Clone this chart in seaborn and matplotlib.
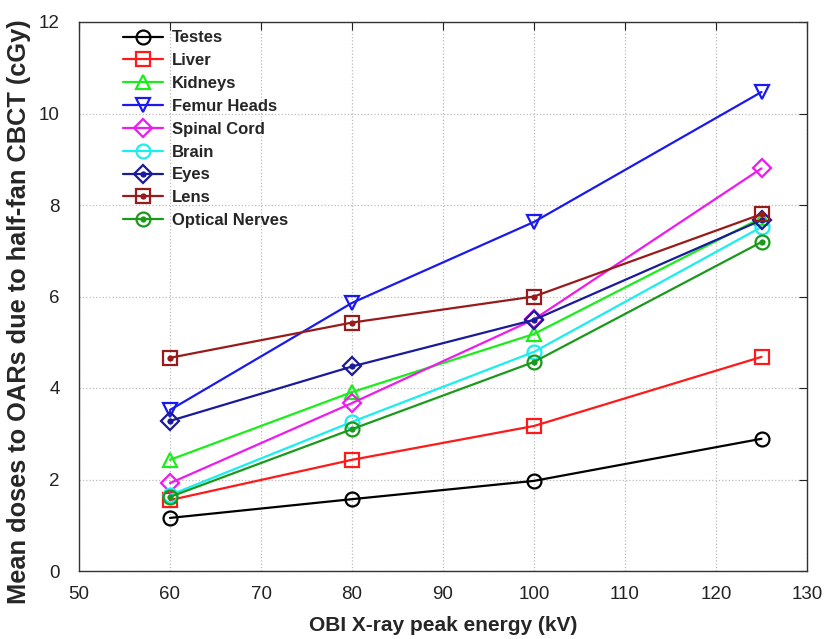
import numpy as np
import pandas as pd
import matplotlib
matplotlib.use("Agg")
import matplotlib.pyplot as plt
from matplotlib.legend_handler import HandlerTuple
import seaborn as sns

# ==================================================
# DATA
# ==================================================
energy_kv = [60, 80, 100, 125]

testes = [1.16, 1.57, 1.97, 2.89]
liver = [1.55, 2.43, 3.17, 4.68]
kidneys = [2.43, 3.91, 5.18, 7.72]
femur_heads = [3.52, 5.86, 7.63, 10.47]
spinal_cord = [1.92, 3.67, 5.50, 8.80]
brain = [1.66, 3.26, 4.79, 7.52]
eyes = [3.28, 4.47, 5.49, 7.67]
lens = [4.66, 5.43, 6.00, 7.80]
optical_nerves = [1.62, 3.10, 4.57, 7.19]

organs = ["Testes", "Liver", "Kidneys", "Femur Heads", "Spinal Cord",
          "Brain", "Eyes", "Lens", "Optical Nerves"]
doses = [testes, liver, kidneys, femur_heads, spinal_cord,
         brain, eyes, lens, optical_nerves]

# style per organ: colour, marker, inner dot?
styles = {
    "Testes": ("black", "o", False),
    "Liver": ("#ff1a1a", "s", False),
    "Kidneys": ("#1aee1a", "^", False),
    "Femur Heads": ("#1a1aee", "v", False),
    "Spinal Cord": ("#ee1aee", "D", False),
    "Brain": ("#1aeeee", "o", False),
    "Eyes": ("#1a1a9a", "D", True),
    "Lens": ("#991a1a", "s", True),
    "Optical Nerves": ("#1a991a", "o", True),
}

df = pd.DataFrame({
    "energy": np.tile(energy_kv, len(organs)),
    "dose": np.concatenate(doses),
    "organ": np.repeat(organs, len(energy_kv)),
})

sns.set_style("white")
plt.rcParams["font.family"] = ["Liberation Sans", "DejaVu Sans"]

fig = plt.figure(figsize=(8.26, 6.39), dpi=100)
ax = fig.add_axes([79 / 826, 68 / 639, 728 / 826, 549 / 639])

handles = []
for organ in organs:
    color, marker, dot = styles[organ]
    sub = df[df["organ"] == organ]
    msize = {"o": 10, "s": 9.5, "D": 9, "^": 10.5, "v": 10.5}[marker]
    sns.lineplot(data=sub, x="energy", y="dose", ax=ax, color=color,
                 marker=marker, markersize=msize, markerfacecolor="none",
                 markeredgecolor=color, markeredgewidth=1.6,
                 linewidth=1.6, label=organ, legend=False)
    line = ax.lines[-1]
    if dot:
        sns.lineplot(data=sub, x="energy", y="dose", ax=ax, color=color,
                     marker="o", markersize=4.5, linestyle="", legend=False,
                     markeredgewidth=0)
        handles.append((line, ax.lines[-1]))
    else:
        handles.append(line)

ax.set_xlim(50, 130)
ax.set_ylim(0, 12)
ax.set_xticks(range(50, 131, 10))
ax.set_yticks(range(0, 13, 2))
ax.grid(True, linestyle=":", color="#bbbbbb", linewidth=0.9)
for s in ax.spines.values():
    s.set_visible(True)
    s.set_color("#333333")
    s.set_linewidth(1.0)
ax.tick_params(direction="in", length=6, top=True, right=True,
               labelsize=13.5, colors="#222222")
ax.tick_params(axis="x", pad=11)
ax.tick_params(axis="y", pad=14)

ax.set_xlabel("OBI X-ray peak energy (kV)", fontsize=15, fontweight="bold",
              labelpad=9)
ax.set_ylabel("Mean doses to OARs due to half-fan CBCT (cGy)", fontsize=18.3,
              fontweight="bold")
ax.yaxis.set_label_coords(-0.066, 0.472)

leg = ax.legend(handles, organs, handler_map={tuple: HandlerTuple(ndivide=1)},
                loc="upper left", bbox_to_anchor=(0.04, 1.012), frameon=False,
                prop={"weight": "bold", "size": 12}, labelspacing=0.47,
                handlelength=2.4, handletextpad=0.55)

fig.savefig("out.png", dpi=100)
